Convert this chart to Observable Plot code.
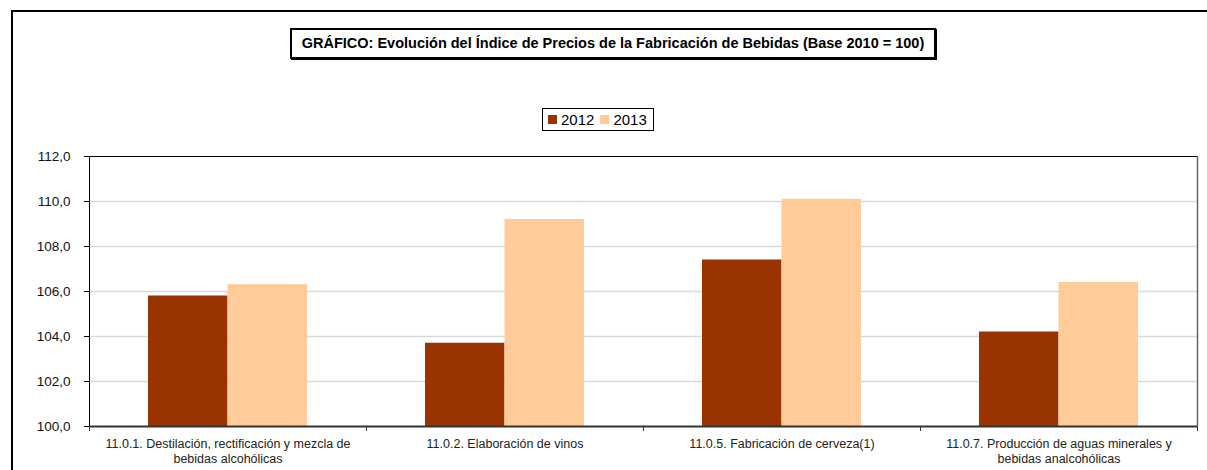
<!DOCTYPE html>
<html>
<head>
<meta charset="utf-8">
<script src="https://cdn.jsdelivr.net/npm/d3@7"></script>
<script src="https://cdn.jsdelivr.net/npm/@observablehq/plot@0.6"></script>
<style>
  html, body { margin: 0; padding: 0; background: #fff; overflow: hidden; }
  body { width: 1207px; height: 470px; position: relative; font-family: "Liberation Sans", Arial, sans-serif; }
  #frame { position: absolute; left: 11px; top: 10px; width: 1220px; height: 500px; border-top: 2px solid #000; border-left: 2px solid #000; box-sizing: border-box; }
  #title { position: absolute; left: 290px; top: 28px; width: 646px; height: 31px; border: 2px solid #000; box-shadow: 1px 1px 0 #000; box-sizing: border-box; font-weight: bold; font-size: 14.5px; line-height: 27px; text-align: center; color: #000; white-space: nowrap; }
  #legend { position: absolute; left: 542px; top: 108px; width: 112px; height: 23px; border: 1px solid #000; box-sizing: border-box; font-size: 15px; line-height: 21px; display: flex; align-items: center; padding-left: 5px; }
  #legend .sw { display: inline-block; width: 9px; height: 9px; margin-right: 4px; }
  #legend .it { display: inline-flex; align-items: center; margin-right: 6px; }
  #chart { position: absolute; left: 0; top: 140px; }
</style>
</head>
<body>
<div id="frame"></div>
<div id="title"></div>
<div id="legend"></div>
<div id="chart"></div>
<script>
const titleText = "GRÁFICO: Evolución del Índice de Precios de la Fabricación de Bebidas (Base 2010 = 100)";
const categories = [
  "11.0.1. Destilación, rectificación y mezcla de\nbebidas alcohólicas",
  "11.0.2. Elaboración de vinos",
  "11.0.5. Fabricación de cerveza(1)",
  "11.0.7. Producción de aguas minerales y\nbebidas analcohólicas"
];
const years = ["2012", "2013"];
const values2012 = [105.8, 103.7, 107.4, 104.2];
const values2013 = [106.3, 109.2, 110.1, 106.4];
const yTicks = [100, 102, 104, 106, 108, 110, 112];
const colors = ["#993300", "#FFCC99"];

document.getElementById("title").textContent = titleText;
const leg = document.getElementById("legend");
years.forEach((y, i) => {
  const it = document.createElement("span");
  it.className = "it";
  const sw = document.createElement("span");
  sw.className = "sw";
  sw.style.background = colors[i];
  it.appendChild(sw);
  it.appendChild(document.createTextNode(y));
  leg.appendChild(it);
});

const data = [];
categories.forEach((c, i) => {
  data.push({cat: c, year: years[0], value: values2012[i]});
  data.push({cat: c, year: years[1], value: values2013[i]});
});

const W = 1207, H = 330;
const mL = 89, mR = 10, mT = 16, mB = 44;
const band = (W - mL - mR) / categories.length;
const barW = 79.5;
const fmt = d => d.toFixed(1).replace(".", ",");

const chart = Plot.plot({
  width: W,
  height: H,
  marginLeft: mL,
  marginRight: mR,
  marginTop: mT,
  marginBottom: mB,
  style: {fontFamily: "'Liberation Sans', Arial, sans-serif", background: "transparent", color: "#000"},
  x: {domain: categories, padding: 0, label: null},
  y: {domain: [yTicks[0], yTicks[yTicks.length - 1]], label: null},
  color: {domain: years, range: colors},
  marks: [
    Plot.gridY(yTicks.slice(1, -1), {stroke: "#d9d9d9", strokeOpacity: 1, strokeWidth: 1.5}),
    Plot.barY(data.filter(d => d.year === years[0]), {x: "cat", y1: yTicks[0], y2: "value", fill: "year", insetLeft: band / 2 - barW, insetRight: band / 2}),
    Plot.barY(data.filter(d => d.year === years[1]), {x: "cat", y1: yTicks[0], y2: "value", fill: "year", insetLeft: band / 2, insetRight: band / 2 - barW}),
    Plot.axisY(yTicks, {tickFormat: fmt, tickSize: 5, tickPadding: 14, fontSize: 13.5, stroke: "#000", fill: "#111"}),
    Plot.axisX({tickSize: 0, tickPadding: 10, fontSize: 12.5, lineHeight: 1.25, fill: "#222"}),
    Plot.axisX({ticks: categories, tickSize: 5, tickFormat: () => "", dx: -band / 2, stroke: "#333"}),
    Plot.axisX({ticks: categories.slice(-1), tickSize: 5, tickFormat: () => "", dx: band / 2, stroke: "#333"}),
    Plot.ruleY([yTicks[yTicks.length - 1]], {stroke: "#000", strokeWidth: 1}),
    Plot.ruleY([yTicks[0]], {stroke: "#333", strokeWidth: 2}),
    Plot.ruleX([categories[0]], {x: d => d, dx: -band / 2, y1: yTicks[0], y2: yTicks[yTicks.length - 1], stroke: "#000"}),
    Plot.ruleX([categories[categories.length - 1]], {x: d => d, dx: band / 2, y1: yTicks[0], y2: yTicks[yTicks.length - 1], stroke: "#666", strokeWidth: 1.5})
  ]
});
document.getElementById("chart").appendChild(chart);
</script>
</body>
</html>
